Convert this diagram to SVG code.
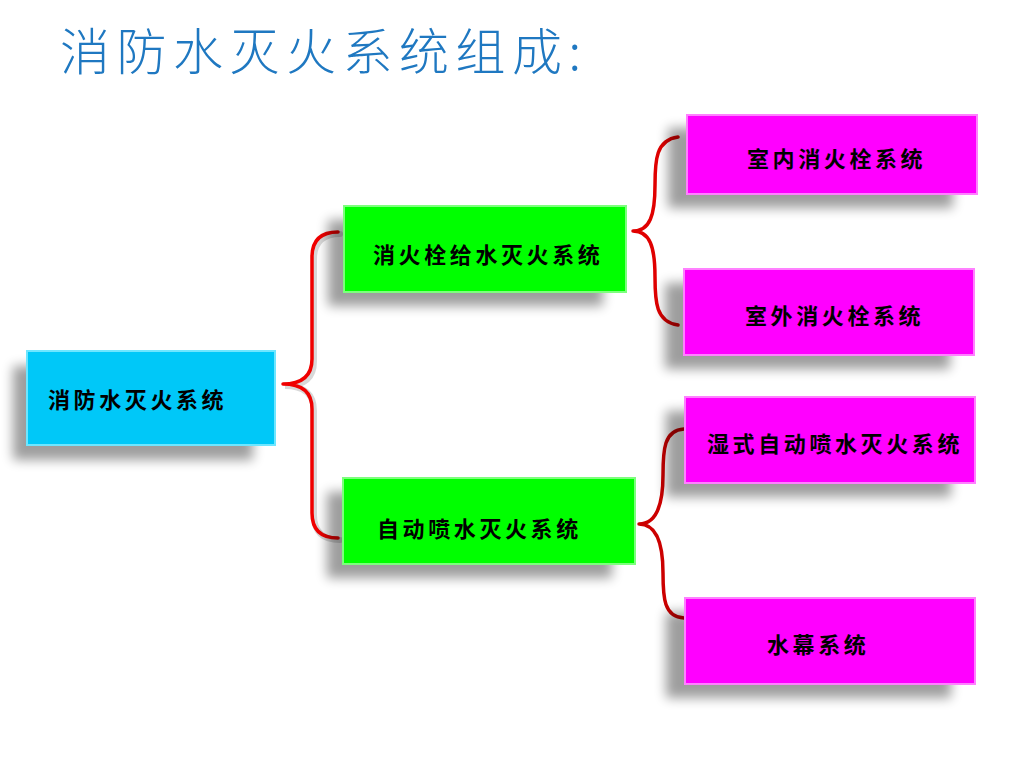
<svg xmlns="http://www.w3.org/2000/svg" width="1024" height="768" viewBox="0 0 1024 768">
<defs>
<filter id="sh" x="-20%" y="-30%" width="140%" height="160%">
<feGaussianBlur stdDeviation="6"/>
</filter>
<style>
.t{font-family:"Noto Sans CJK SC","Noto Sans CJK TC",sans-serif;font-size:22px;font-weight:700;fill:#000;letter-spacing:3.6px;dominant-baseline:central}
.title{font-family:"Noto Sans CJK SC",sans-serif;font-size:50px;font-weight:300;fill:#1f78c1;letter-spacing:6.5px;dominant-baseline:central}
.shadow{fill:#000;opacity:0.38;filter:url(#sh)}
.cyan{fill:#00c8f8;stroke:#6ee6ff;stroke-width:2}
.green{fill:#00ff00;stroke:#7dff7d;stroke-width:2}
.mag{fill:#ff00ff;stroke:#ff80ff;stroke-width:2}
.brace{fill:none;stroke-width:3.5;stroke-linecap:round;stroke-linejoin:round}
.bshadow{fill:none;stroke:#d8d8d8;stroke-width:6;stroke-linecap:round}
</style>
</defs>
<rect width="1024" height="768" fill="#fff"/>
<text class="title" x="60" y="48">消防水灭火系统组成:</text>

<g id="connectors">
<path class="bshadow" transform="translate(2,2)" d="M338 232 Q312 232 312 257 L312 359 Q312 384 283 384 Q312 384 312 409 L312 513 Q312 538 338 538"/>
<path class="brace" stroke="#f00000" d="M338 232 Q312 232 312 257 L312 359 Q312 384 283 384 Q312 384 312 409 L312 513 Q312 538 338 538"/>
<path class="brace" stroke="#e00000" d="M678 137 C656 140 655 160 655 185 C655 215 650 231 633 231 C650 231 655 247 655 277 C655 302 656 322 678 325"/>
<path class="brace" stroke="#cc0000" d="M684 429 C664 430 663 450 663 475 C663 505 656 524 639 524 C656 524 663 543 663 573 C663 598 664 617 684 618"/>
</g>

<g id="n0">
<rect class="shadow" x="13" y="366" width="240" height="94"/>
<rect class="cyan" x="27" y="351" width="248" height="94"/>
<text class="t" x="48" y="398">消防水灭火系统</text>
</g>
<g id="n1">
<rect class="shadow" x="328" y="220" width="275" height="86"/>
<rect class="green" x="344" y="206" width="282" height="86"/>
<text class="t" x="373" y="253">消火栓给水灭火系统</text>
</g>
<g id="n2">
<rect class="shadow" x="327" y="492" width="285" height="86"/>
<rect class="green" x="343" y="478" width="292" height="86"/>
<text class="t" x="377" y="527">自动喷水灭火系统</text>
</g>
<g id="n3">
<rect class="shadow" x="668" y="128" width="285" height="80"/>
<rect class="mag" x="687" y="115" width="290" height="79"/>
<text class="t" x="747" y="157">室内消火栓系统</text>
</g>
<g id="n4">
<rect class="shadow" x="665" y="283" width="285" height="86"/>
<rect class="mag" x="684" y="269" width="290" height="86"/>
<text class="t" x="745" y="314">室外消火栓系统</text>
</g>
<g id="n5">
<rect class="shadow" x="666" y="411" width="285" height="86"/>
<rect class="mag" x="685" y="397" width="290" height="86"/>
<text class="t" x="707" y="442">湿式自动喷水灭火系统</text>
</g>
<g id="n6">
<rect class="shadow" x="666" y="612" width="285" height="86"/>
<rect class="mag" x="685" y="598" width="290" height="86"/>
<text class="t" x="767" y="643">水幕系统</text>
</g>
</svg>
